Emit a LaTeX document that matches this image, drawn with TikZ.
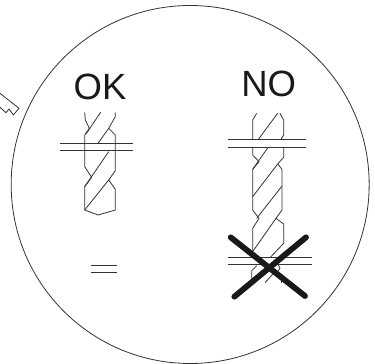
\documentclass[tikz,border=0pt]{standalone}
\usepackage{fontspec}
\setmainfont{Liberation Sans}
\tikzset{
  thin line/.style={line width=0.8pt,draw=black!80,line join=round},
  big label/.style={inner sep=0pt,font=\fontsize{36.5}{36.5}\selectfont,text=black!90},
  cross/.style={line width=5.8pt,line cap=round,draw=black!90}
}
\begin{document}
\begin{tikzpicture}[x=0.33333pt,y=-0.33333pt]
\useasboundingbox (0,0) rectangle (1125,1092);
\fill[white] (0,0) rectangle (1125,1092);
% lens circle
\draw[thin line] (570.5,553.5) circle (537);
% pointer
\draw[thin line] (0,280) -- (57,325) -- (40,345) -- (27,327) -- (18,338) -- (0,322);
% labels
\node[big label] (ok) at (300,261) {OK};
\node[big label] (no) at (806,251) {NO};
% OK drill
\draw[thin line] (254,337) -- (256,360) -- (268,385) -- (254,405) -- (254,500) -- (275,532) -- (254,560) -- (254,630) -- (294,645) -- (346,630) -- (346,568) -- (326,540) -- (346,512) -- (346,405) -- (326,385) -- (346,350) -- (346,337);
\draw[thin line] (302,337) -- (258,402);
\draw[thin line] (326,385) -- (294,430);
\draw[thin line] (326,455) -- (254,560);
\draw[thin line] (326,540) -- (254,630);
\draw[thin line] (181,430) -- (400,430);
\draw[thin line] (181,452) -- (400,452);
% equal lines
\draw[thin line] (273,797) -- (350,797);
\draw[thin line] (273,817) -- (350,817);
% NO drill, above the upper band
\draw[thin line] (770,340) -- (758,360) -- (758,418);
\draw[thin line] (840,340) -- (851,360) -- (851,405) -- (843,418);
\draw[thin line] (833,340) -- (775,418);
% NO drill, between the bands
\draw[thin line] (758,441) -- (758,465) -- (777,485) -- (758,508) -- (758,630) -- (777,655) -- (758,685) -- (758,755);
\draw[thin line] (851,441) -- (851,472) -- (833,492) -- (846,508) -- (846,630) -- (828,655) -- (851,672) -- (851,730);
\draw[thin line] (805,441) -- (758,508);
\draw[thin line] (833,492) -- (758,590);
\draw[thin line] (846,558) -- (770,655);
\draw[thin line] (828,655) -- (760,752);
\draw[thin line] (851,730) -- (810,773);
% NO drill, below the lower band
\draw[thin line] (770,797) -- (755,812) -- (755,842);
\draw[thin line] (835,795) -- (840,805) -- (825,825);
\draw[thin line] (825,815) -- (795,848);
\draw[thin line] (843,830) -- (843,850);
% bands
\draw[thin line] (685,418) -- (917,418);
\draw[thin line] (685,441) -- (917,441);
\draw[thin line] (685,773) -- (937,773);
\draw[thin line] (685,794) -- (937,794);
% cross
\draw[cross] (692,712) -- (915,888);
\draw[cross] (918,712) -- (703,890);
\end{tikzpicture}
\end{document}
